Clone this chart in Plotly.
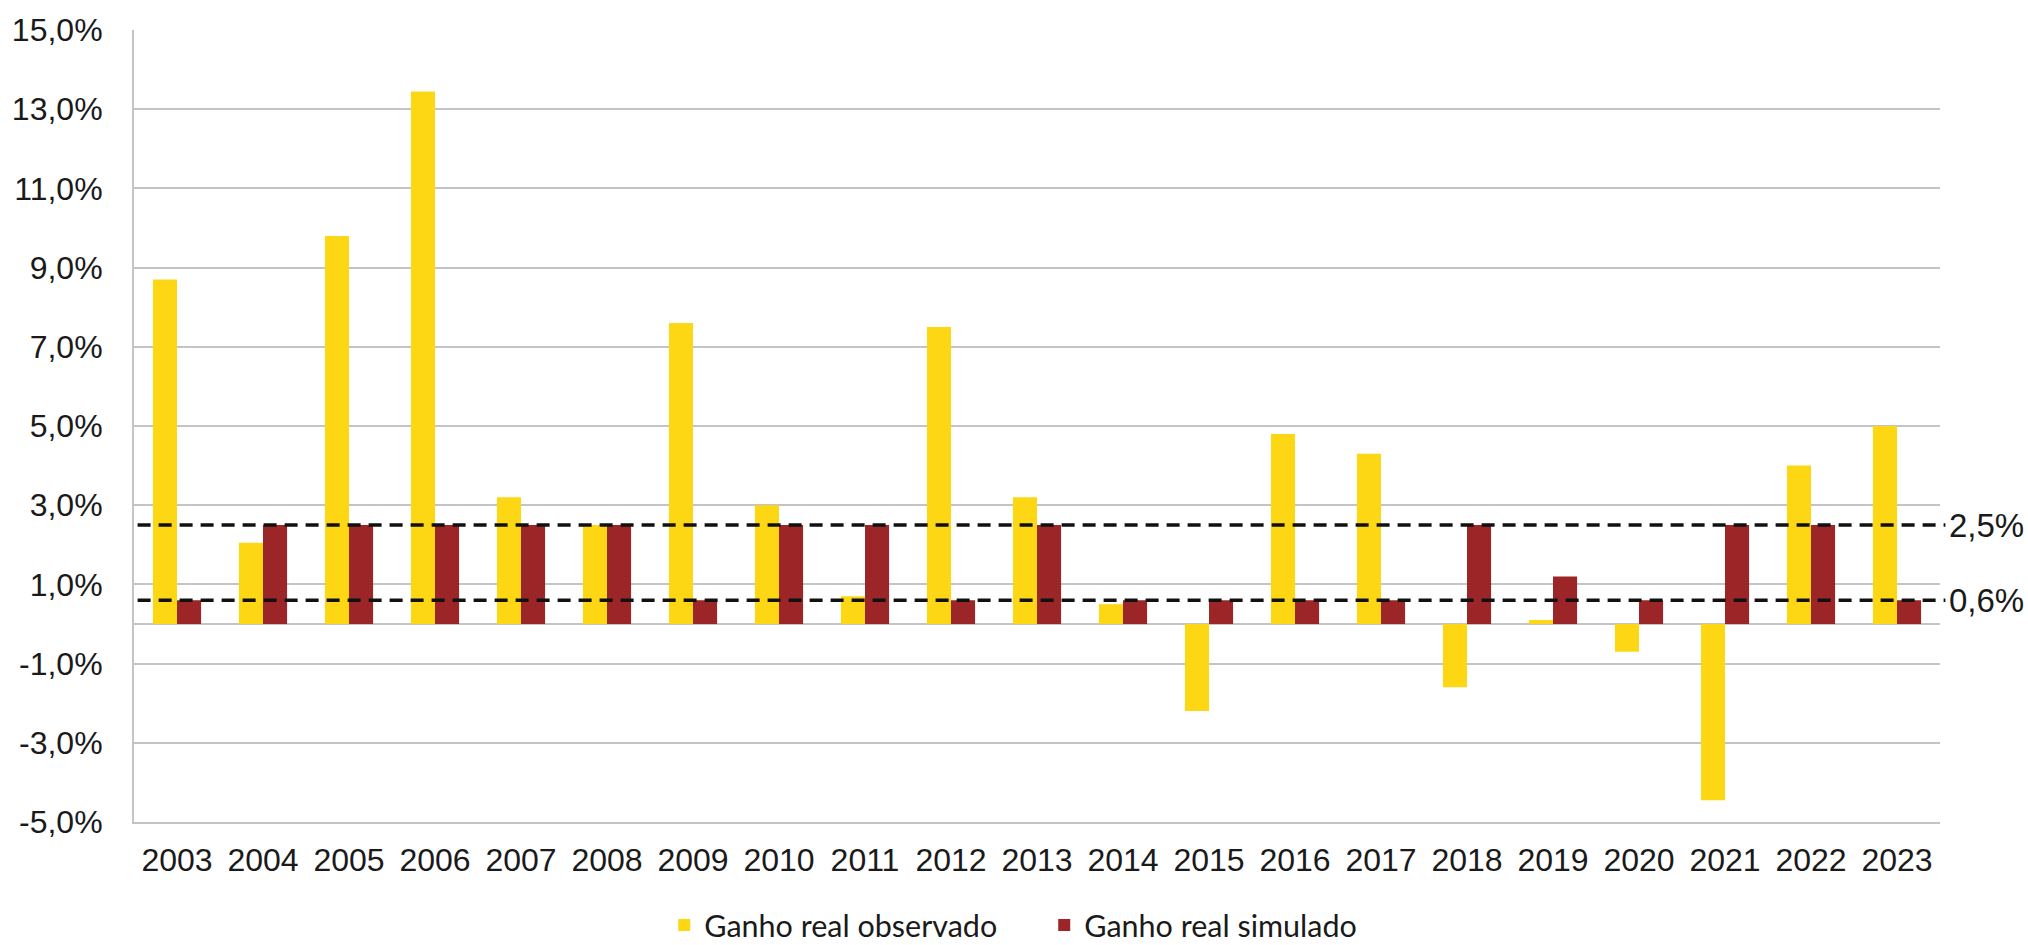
import plotly.graph_objects as go

years = ["2003", "2004", "2005", "2006", "2007", "2008", "2009", "2010", "2011", "2012", "2013",
         "2014", "2015", "2016", "2017", "2018", "2019", "2020", "2021", "2022", "2023"]
observado = [8.7, 2.05, 9.8, 13.45, 3.2, 2.5, 7.6, 3.0, 0.7, 7.5, 3.2,
             0.5, -2.2, 4.8, 4.3, -1.6, 0.1, -0.7, -4.45, 4.0, 5.0]
simulado = [0.6, 2.5, 2.5, 2.5, 2.5, 2.5, 0.6, 2.5, 2.5, 0.6, 2.5,
            0.6, 0.6, 0.6, 0.6, 2.5, 1.2, 0.6, 2.5, 2.5, 0.6]
ref_levels = [2.5, 0.6]
ref_labels = ["2,5%", "0,6%"]
y_tickvals = [15, 13, 11, 9, 7, 5, 3, 1, -1, -3, -5]
y_ticktext = ["15,0%", "13,0%", "11,0%", "9,0%", "7,0%", "5,0%", "3,0%", "1,0%", "-1,0%", "-3,0%", "-5,0%"]

YELLOW = "#FDD714"
RED = "#9C2627"
GRID = "#C4C4C4"
TXT = "#1a1a1a"

fig = go.Figure()
fig.add_trace(go.Bar(x=years, y=observado, name="Ganho real observado",
                     marker=dict(color=YELLOW, line=dict(width=0))))
fig.add_trace(go.Bar(x=years, y=simulado, name="Ganho real simulado",
                     marker=dict(color=RED, line=dict(width=0))))

for lvl, lab in zip(ref_levels, ref_labels):
    fig.add_shape(type="line", xref="paper", yref="y", x0=0.002, x1=1.003, y0=lvl, y1=lvl,
                  line=dict(color="#111111", width=3.5, dash="13px,8px"), layer="above")
    fig.add_annotation(xref="paper", yref="y", x=1.004, y=lvl, text=lab, showarrow=False,
                       xanchor="left", yanchor="middle",
                       font=dict(family="Liberation Sans, Arial", size=33, color=TXT))

fig.update_layout(
    width=2028, height=945,
    margin=dict(l=133, r=88, t=28, b=123),
    paper_bgcolor="white", plot_bgcolor="white",
    barmode="group", bargap=0.44, bargroupgap=0,
    font=dict(family="Liberation Sans, Arial", size=31, color=TXT),
    showlegend=True,
    legend=dict(orientation="h", xref="paper", x=0.504, xanchor="center",
                yref="container", y=0.021, yanchor="middle",
                font=dict(family="Lato, Carlito, sans-serif", size=30.5, color=TXT),
                itemwidth=30, tracegroupgap=0, traceorder="normal",
                entrywidth=335, entrywidthmode="pixels"),
)
fig.update_xaxes(type="category", showgrid=False, showline=True, linecolor=GRID, linewidth=2,
                 ticks="", tickfont=dict(size=32, color=TXT), ticklabelstandoff=9,
                 mirror=False)
fig.update_yaxes(range=[-5, 15], tickvals=y_tickvals, ticktext=y_ticktext, showgrid=True,
                 gridcolor=GRID, gridwidth=2, zeroline=True, zerolinecolor=GRID, zerolinewidth=2,
                 showline=True, linecolor=GRID, linewidth=2, ticks="",
                 tickfont=dict(size=32, color=TXT), ticklabelstandoff=23)

fig.write_html("out.html")
